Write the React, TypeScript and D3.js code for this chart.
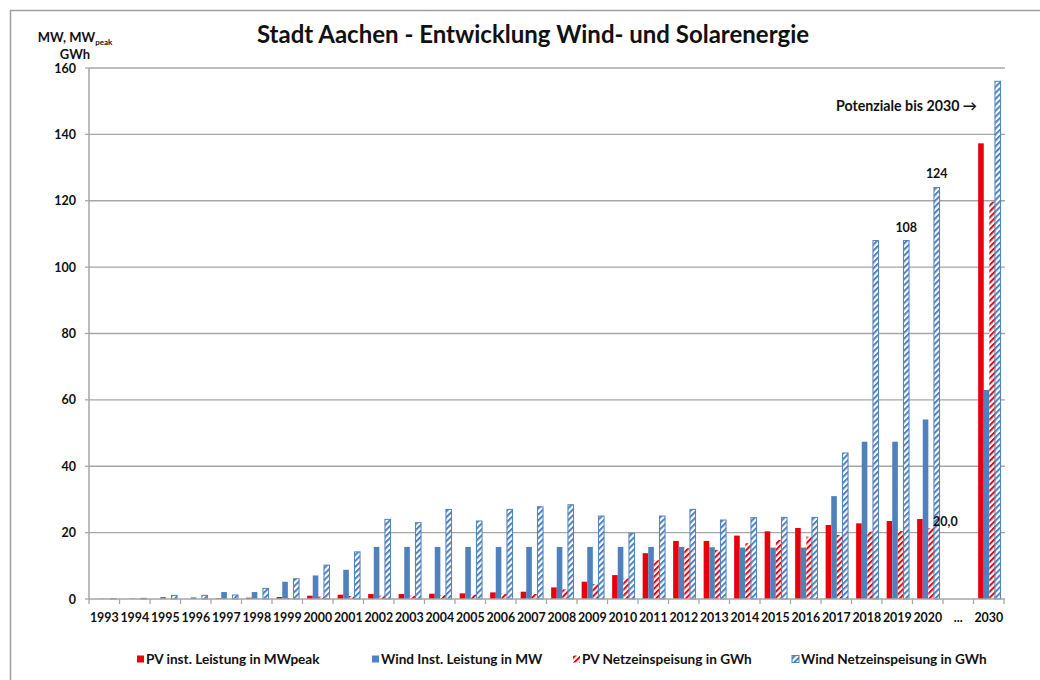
import React from "react";
import * as d3 from "d3";

const categories = ["1993","1994","1995","1996","1997","1998","1999","2000","2001","2002","2003","2004","2005","2006","2007","2008","2009","2010","2011","2012","2013","2014","2015","2016","2017","2018","2019","2020","...","2030"];
const pvInst = [0,0,0,0,0.2,0.4,0.6,1.0,1.3,1.5,1.5,1.6,1.7,2.0,2.2,3.5,5.2,7.2,13.8,17.5,17.5,19.1,20.4,21.4,22.3,22.8,23.5,24.1,null,137.3];
const windInst = [0.1,0.2,0.6,0.5,2.1,2.1,5.2,7.1,8.8,15.7,15.7,15.7,15.7,15.7,15.7,15.7,15.7,15.7,15.7,15.7,15.6,15.5,15.5,15.5,31.0,47.4,47.4,54.1,null,63.0];
const pvFeed = [0,0,0,0,0,0.1,0.3,0.7,0.9,1.0,1.0,1.2,1.3,1.6,1.5,2.9,4.5,6.2,11.7,15.3,14.8,16.8,17.8,18.8,19.3,20.3,20.5,21.4,null,119.7];
const windFeed = [0.1,0.2,1.1,1.1,1.2,3.2,6.1,10.2,14.2,24.0,23.0,27.0,23.5,27.0,27.8,28.4,25.0,19.8,25.0,27.0,23.8,24.5,24.6,24.6,44.0,108,108,124,null,156];

const seriesNames = ["PV inst. Leistung in MWpeak","Wind Inst. Leistung in MW","PV Netzeinspeisung in GWh","Wind Netzeinspeisung in GWh"];
const seriesData = [pvInst, windInst, pvFeed, windFeed];
const yTicks = [0,20,40,60,80,100,120,140,160];

const RED = "#e8000e";
const BLUE = "#4f81bd";
const GRID = "#a6a6a6";
const FONT = "Lato, 'Liberation Sans', sans-serif";

export default function App() {
  const left = 89, right = 1005, top = 68, bottom = 599;
  const x = d3.scaleBand<string>().domain(categories).range([left, right - 1]).padding(0);
  const y = d3.scaleLinear().domain([0, 160]).range([bottom, top]);
  const groupW = 22.4;
  const inner = d3.scaleBand<number>().domain([0,1,2,3]).range([0, groupW]).padding(0);
  const off = (x.bandwidth() - groupW) / 2 + 0.6;

  const fills = [RED, BLUE, "url(#hatchRed)", "url(#hatchBlue)"];
  const strokes = ["none", "none", "none", BLUE];

  const legendX = [137, 372, 573, 792];

  return (
    <svg width={1040} height={680} style={{ position: "absolute", left: 0, top: 0, background: "#fff" }} fontFamily={FONT}>
      <defs>
        <pattern id="hatchRed" patternUnits="userSpaceOnUse" width={4.2} height={4.2} patternTransform="rotate(45)">
          <rect x={0} y={0} width={4.2} height={4.2} fill="#fff" />
          <rect x={0} y={0} width={2} height={4.2} fill={RED} />
        </pattern>
        <pattern id="hatchBlue" patternUnits="userSpaceOnUse" width={4.2} height={4.2} patternTransform="rotate(45)">
          <rect x={0} y={0} width={4.2} height={4.2} fill="#fff" />
          <rect x={0} y={0} width={2} height={4.2} fill={BLUE} />
        </pattern>
      </defs>
      <rect x={0} y={0} width={1040} height={680} fill="#fff" />
      <rect x={10.5} y={10.5} width={1100} height={700} fill="none" stroke="#9e9e9e" strokeWidth={1.5} />

      <text x={533} y={43} textAnchor="middle" fontSize={24} fontWeight="bold" fill="#111">Stadt Aachen - Entwicklung Wind- und Solarenergie</text>

      <text x={75} y={42} textAnchor="middle" fontSize={13} fontWeight="bold" fill="#111">
        MW, MW<tspan fontSize={8} dy={3}>peak</tspan>
      </text>
      <text x={75} y={59} textAnchor="middle" fontSize={13} fontWeight="bold" fill="#111">GWh</text>

      {yTicks.map((t) => (
        <g key={t}>
          {t > 0 && <line x1={left} x2={right} y1={y(t)} y2={y(t)} stroke={GRID} strokeWidth={1.3} />}
          <line x1={85} x2={left} y1={y(t)} y2={y(t)} stroke={GRID} strokeWidth={1.3} />
          <text x={76} y={y(t) + 4.5} textAnchor="end" fontSize={12.5} fontWeight="bold" fill="#111">{t}</text>
        </g>
      ))}

      {categories.map((c, i) => (
        <g key={c}>
          {seriesData.map((s, k) => {
            const v = s[i];
            if (v === null || v === undefined || v <= 0) return null;
            const bx = (x(c) as number) + off + (inner(k) as number);
            return (
              <rect key={k} x={bx} y={y(v)} width={inner.bandwidth()} height={y(0) - y(v)}
                fill={fills[k]} stroke={strokes[k]} strokeWidth={strokes[k] === "none" ? 0 : 1} />
            );
          })}
        </g>
      ))}

      <line x1={left} x2={left} y1={top} y2={bottom} stroke={GRID} strokeWidth={1.5} />
      <line x1={left} x2={right} y1={bottom} y2={bottom} stroke={GRID} strokeWidth={1.5} />
      {categories.map((c) => (
        <line key={"t" + c} x1={x(c) as number} x2={x(c) as number} y1={bottom} y2={bottom + 5} stroke={GRID} strokeWidth={1.3} />
      ))}
      <line x1={right - 1} x2={right - 1} y1={bottom} y2={bottom + 5} stroke={GRID} strokeWidth={1.3} />
      {categories.map((c) => (
        <text key={"l" + c} x={(x(c) as number) + x.bandwidth() / 2} y={622} textAnchor="middle" fontSize={12.4} fontWeight="bold" fill="#111">{c}</text>
      ))}

      <text x={(x("2019") as number) + off + (inner(3) as number) + inner.bandwidth() / 2} y={y(108) - 9} textAnchor="middle" fontSize={12.5} fontWeight="bold" fill="#111">108</text>
      <text x={(x("2020") as number) + off + (inner(3) as number) + inner.bandwidth() / 2} y={y(124) - 9} textAnchor="middle" fontSize={12.5} fontWeight="bold" fill="#111">124</text>
      <text x={933} y={526} textAnchor="start" fontSize={12.5} fontWeight="bold" fill="#111">20,0</text>
      <text x={977} y={111} textAnchor="end" fontSize={14.2} fontWeight="bold" fill="#111">Potenziale bis 2030 →</text>

      {seriesNames.map((n, k) => (
        <g key={n}>
          <rect x={legendX[k]} y={655.5} width={7} height={7} fill={fills[k]} stroke={k === 3 ? BLUE : "none"} strokeWidth={k === 3 ? 1 : 0} />
          <text x={legendX[k] + 9} y={663.5} fontSize={13.6} fontWeight="bold" fill="#111">{n}</text>
        </g>
      ))}
    </svg>
  );
}
